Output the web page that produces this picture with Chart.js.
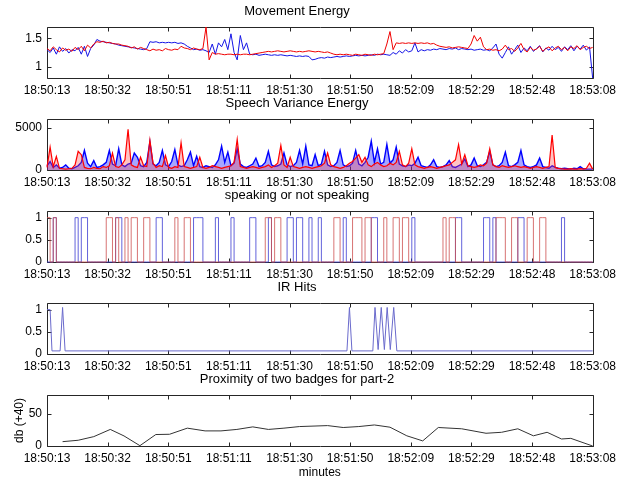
<!DOCTYPE html>
<html><head><meta charset="utf-8">
<script src="https://cdn.jsdelivr.net/npm/chart.js@4/dist/chart.umd.min.js"></script>
<style>
html,body{margin:0;padding:0;background:#fff;}
#wrap{position:relative;width:621px;height:480px;overflow:hidden;background:#fff;}
canvas{position:absolute;left:0;}
</style></head><body><div id="wrap">
<canvas id="c1" width="621" height="100" style="top:0px"></canvas>
<canvas id="c2" width="621" height="100" style="top:92px"></canvas>
<canvas id="c3" width="621" height="100" style="top:184px"></canvas>
<canvas id="c4" width="621" height="100" style="top:276px"></canvas>
<canvas id="c5" width="621" height="112" style="top:368px"></canvas>
</div>
<script>
// ---- x axis (seconds after 18:50:13) ----
const tickSecs = [0, 19.44, 38.89, 58.33, 77.78, 97.22, 116.67, 136.11, 155.56, 175];
const tickLabels = ["18:50:13","18:50:32","18:50:51","18:51:11","18:51:30","18:51:50","18:52:09","18:52:29","18:52:48","18:53:08"];

// ---- Movement Energy (1 sample per second) ----
const moveBlue = [1.30,1.25,1.33,1.22,1.35,1.27,1.32,1.24,1.30,1.28,1.34,1.22,1.36,1.18,1.32,1.38,1.48,1.45,1.44,1.43,
1.42,1.41,1.40,1.38,1.37,1.36,1.35,1.34,1.33,1.32,1.31,1.30,1.32,1.44,1.43,1.44,1.42,1.43,1.42,1.43,
1.42,1.43,1.41,1.42,1.40,1.36,1.33,1.30,1.31,1.29,1.30,1.28,1.25,1.40,1.22,1.42,1.35,1.48,1.30,1.58,
1.25,1.12,1.55,1.30,1.42,1.22,1.21,1.22,1.20,1.21,1.22,1.21,1.20,1.21,1.20,1.21,1.20,1.19,1.20,1.19,
1.18,1.19,1.18,1.19,1.18,1.12,1.13,1.15,1.16,1.15,1.17,1.16,1.17,1.18,1.17,1.18,1.19,1.18,1.19,1.20,
1.19,1.20,1.19,1.20,1.21,1.20,1.22,1.21,1.22,1.21,1.20,1.25,1.22,1.28,1.24,1.30,1.26,1.28,1.42,1.26,
1.30,1.28,1.30,1.29,1.31,1.30,1.32,1.31,1.30,1.32,1.31,1.33,1.30,1.32,1.31,1.30,1.31,1.29,1.30,1.31,
1.29,1.30,1.28,1.33,1.40,1.22,1.15,1.25,1.35,1.22,1.30,1.38,1.25,1.33,1.28,1.36,1.27,1.32,1.37,1.26,
1.33,1.29,1.36,1.30,1.34,1.27,1.35,1.30,1.37,1.28,1.36,1.31,1.38,1.29,1.35,0.80];
const moveRed = [1.32,1.28,1.35,1.30,1.26,1.33,1.29,1.31,1.27,1.34,1.30,1.36,1.28,1.38,1.33,1.40,1.44,1.43,1.45,1.42,
1.43,1.41,1.40,1.40,1.38,1.37,1.36,1.33,1.35,1.31,1.34,1.32,1.30,1.28,1.31,1.29,1.30,1.28,1.32,1.30,
1.29,1.31,1.30,1.36,1.33,1.32,1.30,1.33,1.31,1.30,1.32,1.70,1.12,1.25,1.22,1.23,1.22,1.21,1.22,1.22,
1.21,1.22,1.21,1.22,1.22,1.21,1.22,1.23,1.24,1.25,1.26,1.27,1.26,1.27,1.28,1.27,1.26,1.27,1.28,1.27,
1.26,1.27,1.26,1.27,1.28,1.27,1.26,1.27,1.26,1.25,1.26,1.24,1.22,1.21,1.22,1.21,1.22,1.21,1.20,1.22,
1.21,1.20,1.22,1.21,1.20,1.22,1.21,1.22,1.23,1.40,1.62,1.30,1.42,1.41,1.42,1.41,1.42,1.41,1.42,1.41,
1.42,1.41,1.42,1.40,1.41,1.38,1.36,1.35,1.34,1.35,1.33,1.34,1.35,1.34,1.33,1.32,1.40,1.55,1.45,1.52,
1.35,1.30,1.31,1.29,1.30,1.28,1.31,1.38,1.30,1.32,1.27,1.33,1.41,1.30,1.26,1.34,1.29,1.31,1.36,1.27,
1.32,1.35,1.28,1.33,1.36,1.30,1.34,1.28,1.35,1.32,1.37,1.30,1.34,1.36,1.32,1.34];

// ---- Speech Variance Energy (1 sample per second) ----
const speechRed = [300,2700,400,1600,200,150,100,150,200,600,2200,1800,300,200,150,300,200,150,400,300,
500,2000,400,300,600,1200,4800,600,400,300,1500,500,400,3500,800,300,500,400,1700,300,
200,400,300,3200,400,300,200,300,400,1500,300,200,300,500,400,300,200,300,400,500,
900,3600,400,300,200,300,400,300,200,300,400,600,300,500,800,2900,600,300,1500,400,
300,200,300,400,300,200,300,400,500,800,2000,600,400,300,200,300,500,800,1000,1400,
1800,900,1500,600,400,700,900,600,400,500,800,600,900,2200,600,400,800,2500,600,400,
300,200,300,400,300,200,300,400,500,600,900,1200,3000,700,1800,500,400,300,400,600,
500,800,2500,600,400,300,500,400,300,400,500,400,300,400,300,200,300,400,300,200,
300,400,4100,300,200,150,100,100,150,100,100,150,100,200,800,100];
const speechBlue = [500,1000,300,600,200,300,600,200,150,300,500,900,2300,800,400,1100,300,400,600,900,
2300,700,500,2500,600,400,700,800,2000,1500,500,400,900,3300,700,500,900,2300,600,400,
1000,2400,600,400,500,1200,2100,500,1600,400,300,500,400,300,600,1200,2800,900,2100,500,
800,2500,700,400,300,500,700,1400,400,500,900,2200,600,400,500,700,2000,600,400,500,
900,2300,700,2800,600,500,1800,500,700,2200,600,400,500,900,2300,600,400,500,800,2300,
700,500,900,1500,3400,900,2500,700,900,3000,800,1200,2700,700,500,400,600,500,800,1500,
500,400,300,600,1200,400,300,400,600,1100,400,300,500,700,1300,400,600,1400,500,400,
600,900,2200,600,400,500,900,2100,500,400,600,900,2300,600,400,300,400,600,1400,400,
300,200,500,300,200,150,200,150,100,200,150,400,150,100,100,100];

// ---- speaking or not speaking (1 sample per second) ----
const speakRed = [1,1,0,1,0,0,0,0,0,0, 0,0,0,0,0,0,0,0,0,0, 1,1,0,1,0,0,1,0,1,1, 0,0,1,1,0,0,0,0,0,0,
0,0,1,0,0,1,1,0,0,0, 0,0,0,0,0,0,0,0,0,0, 0,0,0,0,0,0,0,0,0,0, 0,1,1,0,1,1,0,0,0,0,
0,0,0,0,0,0,0,0,0,0, 0,0,0,1,1,0,0,0,0,1, 1,1,0,1,1,0,0,0,0,1, 0,0,1,1,0,1,1,0,0,0,
0,0,0,0,0,0,0,0,1,0, 1,1,0,0,0,0,0,0,0,0, 0,0,0,0,0,1,1,1,0,0, 1,1,0,0,0,1,1,0,0,1,
1,0,0,0,0,0,0,0,0,0, 0,0,0,0,0,0];
const speakBlue = [0,0,0,1,0,0,0,0,0,0, 1,0,1,1,0,0,0,0,0,0, 0,0,0,1,1,0,0,0,0,0, 0,0,0,0,0,0,1,1,0,0,
0,0,0,0,0,0,0,0,1,1, 1,0,0,0,0,1,0,0,0,0, 1,0,0,0,0,0,1,1,0,0, 0,0,1,0,0,0,0,0,1,1,
0,1,1,0,0,1,0,0,1,0, 0,0,0,0,0,0,1,0,0,0, 0,0,0,0,0,1,1,0,0,0, 0,0,0,0,0,0,0,0,1,0,
0,0,0,0,0,0,0,0,0,0, 0,0,1,1,0,0,0,0,0,0, 0,1,1,0,1,0,0,0,0,0, 0,0,1,1,0,0,0,0,0,0,
0,0,0,0,0,0,1,0,0,0, 0,0,0,0,0,0];

// ---- IR Hits ----
const irTime = [0, 1, 1.6, 4.2, 5, 5.8, 96.2, 97, 97.8, 104.5, 105.2, 106.2, 107.2, 108.2, 109.1, 110.1, 111.2, 112.2, 175];
const irHits = [1, 1, 0.07, 0.07, 1.05, 0.07, 0.07, 1.05, 0.07, 0.07, 1.05, 0.1, 1.05, 0.1, 1.05, 0.1, 1.05, 0.07, 0.07];

// ---- Proximity of two badges ----
const proxTime = [5, 10, 15, 20.3, 24.7, 29.8, 34.9, 39.3, 45, 50.7, 55.8, 60.9, 66, 71, 76, 81, 90, 95, 100, 105, 110, 115.4, 120.5, 125.5, 133, 140.8, 145.8, 151, 156, 160.4, 165, 168, 175];
const proxDb = [6.8, 9, 14.7, 26, 15.8, 0.5, 18, 18.4, 28, 23.7, 23.7, 26, 30, 26, 28, 30.5, 32, 29, 30.5, 33, 29.5, 16, 8, 29, 27, 20, 21.5, 27, 16, 21.5, 11, 12, 0];

// ---------------- rendering ----------------
const FAMILY = "'Liberation Sans', Arial, Helvetica, sans-serif";
const FONT = {family: FAMILY, size: 12, weight: 'normal'};
const TITLE_FONT = {family: FAMILY, size: 13, weight: 'normal'};
const PLOT_LEFT = 47, PLOT_RIGHT_PAD = 27;

const boxPlugin = {
  id: 'box',
  beforeDatasetsDraw(chart) {
    const {ctx, chartArea: a, scales: {x, y}} = chart;
    const L = Math.round(a.left) + 0.5, R = Math.round(a.right) + 0.5;
    const T = Math.round(a.top) + 0.5, B = Math.round(a.bottom) + 0.5;
    ctx.save();
    ctx.strokeStyle = '#262626';
    ctx.lineWidth = 1;
    ctx.beginPath();
    ctx.rect(L, T, R - L, B - T);
    x.ticks.forEach(t => {
      const px = Math.round(x.getPixelForValue(t.value)) + 0.5;
      ctx.moveTo(px, B); ctx.lineTo(px, B - 4);
      ctx.moveTo(px, T); ctx.lineTo(px, T + 4);
    });
    y.ticks.forEach(t => {
      const py = Math.round(y.getPixelForValue(t.value)) + 0.5;
      ctx.moveTo(L, py); ctx.lineTo(L + 4, py);
      ctx.moveTo(R, py); ctx.lineTo(R - 4, py);
    });
    ctx.stroke();
    ctx.restore();
  }
};

function xScale(height, title) {
  return {
    type: 'linear', min: 0, max: 175,
    afterBuildTicks: s => { s.ticks = tickSecs.map(v => ({value: v})); },
    ticks: {callback: (v, i) => tickLabels[i], autoSkip: false, maxRotation: 0, minRotation: 0, padding: 5, color: '#000', font: FONT},
    grid: {display: false, drawTicks: false}, border: {display: false},
    title: title ? {display: true, text: title, color: '#000', font: FONT, padding: {top: 0, bottom: 0}} : {display: false},
    afterFit: s => { s.height = height; }
  };
}
function yScale(min, max, ticks, title) {
  return {
    type: 'linear', min: min, max: max,
    afterBuildTicks: s => { s.ticks = ticks.map(v => ({value: v})); },
    ticks: {callback: v => String(v), padding: 5, color: '#000', font: FONT},
    grid: {display: false, drawTicks: false}, border: {display: false},
    title: title ? {display: true, text: title, color: '#000', font: FONT, padding: {top: 12, bottom: 0}} : {display: false},
    afterFit: s => { s.width = PLOT_LEFT; }
  };
}
function toXY(arr) { return arr.map((v, i) => ({x: i, y: v})); }
function pairXY(xs, ys) { return xs.map((v, i) => ({x: v, y: ys[i]})); }

function makeChart(id, titleText, datasets, yOpts, xHeight, xTitle) {
  return new Chart(document.getElementById(id), {
    type: 'line',
    data: {datasets: datasets},
    options: {
      responsive: false, animation: false, devicePixelRatio: 1,
      parsing: false, normalized: true,
      elements: {point: {radius: 0}, line: {tension: 0, borderWidth: 1}},
      layout: {padding: {left: 0, right: PLOT_RIGHT_PAD, top: 0, bottom: 0}},
      plugins: {
        legend: {display: false}, tooltip: {enabled: false},
        title: {display: true, text: titleText, color: '#000', font: TITLE_FONT, padding: {top: 4, bottom: 7.4}}
      },
      scales: {x: xScale(xHeight, xTitle), y: yOpts}
    },
    plugins: [boxPlugin]
  });
}

makeChart('c1', 'Movement Energy', [
  {data: toXY(moveRed), borderColor: '#f00000', borderWidth: 1, clip: 3},
  {data: toXY(moveBlue), borderColor: '#1414e6', borderWidth: 1, clip: 3}
], yScale(0.8, 1.7, [1, 1.5]), 22);

makeChart('c2', 'Speech Variance Energy', [
  {data: toXY(speechRed), borderColor: '#ff0000', backgroundColor: 'rgba(255,60,60,0.3)', fill: 'origin', borderWidth: 1.2, clip: 3},
  {data: toXY(speechBlue), borderColor: '#0000ff', backgroundColor: 'rgba(0,0,255,0.35)', fill: 'origin', borderWidth: 1.4, clip: 3}
], yScale(0, 6000, [0, 5000]), 22);

makeChart('c3', 'speaking or not speaking', [
  {data: toXY(speakRed), borderColor: 'rgba(205,80,80,0.8)', borderWidth: 1, stepped: 'after', clip: 3},
  {data: toXY(speakBlue), borderColor: 'rgba(60,60,210,0.8)', borderWidth: 1, stepped: 'after', clip: 3}
], yScale(0, 1.15, [0, 0.5, 1]), 22);

makeChart('c4', 'IR Hits', [
  {data: pairXY(irTime, irHits), borderColor: '#6a6acc', borderWidth: 1, clip: 3}
], yScale(0, 1.15, [0, 0.5, 1]), 22);

makeChart('c5', 'Proximity of two badges for part-2', [
  {data: pairXY(proxTime, proxDb), borderColor: '#333333', borderWidth: 1, clip: 3}
], yScale(0, 80, [0, 50], 'db (+40)'), 34, 'minutes');
</script>
</body></html>
